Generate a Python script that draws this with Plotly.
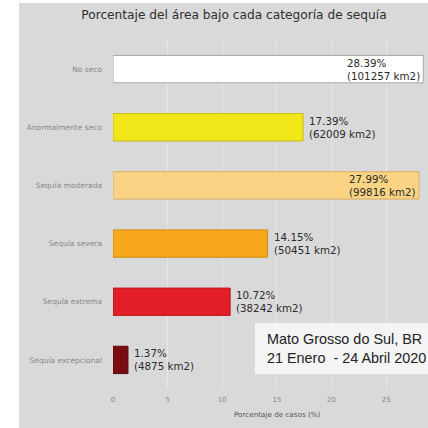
import plotly.graph_objects as go

categories = ["No seco", "Anormalmente seco", "Sequía moderada", "Sequía severa",
              "Sequía extrema", "Sequía excepcional"]
percent = [28.39, 17.39, 27.99, 14.15, 10.72, 1.37]
area_km2 = [101257, 62009, 99816, 50451, 38242, 4875]
bar_colors = ["#ffffff", "#f1e617", "#fad385", "#f8a61c", "#e21f26", "#7a0c12"]
edge_colors = ["#a8a8a8", "#c9bd10", "#d9ad62", "#d08a14", "#b8161c", "#5a080c"]
x_ticks = [0, 5, 10, 15, 20, 25]

W = H = 428
L, R, T, B = 113, 3, 40, 39
PW, PH = W - L - R, H - T - B

def px(x):
    return (x - L) / PW

def py(y):
    return (H - B - y) / PH

fig = go.Figure()
fig.add_trace(go.Bar(
    y=categories, x=percent, orientation="h", width=0.47,
    marker=dict(color=bar_colors, line=dict(color=edge_colors, width=1)),
    hoverinfo="skip",
))

for cat, p, a in zip(categories, percent, area_km2):
    inside = p > 25
    fig.add_annotation(
        x=p, y=cat, xref="x", yref="y",
        text=f"{p:.2f}%<br>({a} km2)",
        showarrow=False, align="left",
        xanchor="right" if inside else "left",
        xshift=-1 if inside else 4,
        font=dict(family="DejaVu Sans", size=10.3, color="#2a2a2a"),
    )

# gray panel edges (white strips)
fig.add_shape(type="rect", xref="paper", yref="paper", x0=px(0), x1=px(19), y0=py(H), y1=py(0),
              fillcolor="white", line=dict(width=0), layer="below")
fig.add_shape(type="rect", xref="paper", yref="paper", x0=px(0), x1=px(W), y0=py(3), y1=py(0),
              fillcolor="white", line=dict(width=0), layer="below")

# info box
fig.add_shape(type="rect", xref="paper", yref="paper", x0=px(255), x1=px(W + 5), y0=py(374), y1=py(323),
              fillcolor="rgba(246,246,246,0.95)", line=dict(width=0))
fig.add_annotation(x=px(265), y=py(348), xref="paper", yref="paper",
                   text="Mato Grosso do Sul, BR<br>21 Enero  - 24 Abril 2020",
                   showarrow=False, xanchor="left", yanchor="middle", align="left",
                   font=dict(family="Liberation Sans", size=14.4, color="#222222"))

# axis title
fig.add_annotation(x=px(277), y=py(414), xref="paper", yref="paper",
                   text="Porcentaje de casos (%)", showarrow=False,
                   xanchor="center", yanchor="middle",
                   font=dict(family="DejaVu Sans", size=7.2, color="#555555"))

fig.update_layout(
    width=W, height=H,
    margin=dict(l=L, r=R, t=T, b=B, pad=0),
    paper_bgcolor="#d9d9d9", plot_bgcolor="#d9d9d9",
    showlegend=False,
    title=dict(text="Porcentaje del área bajo cada categoría de sequía",
               x=234 / W, xref="container", xanchor="center",
               y=1 - 15 / H, yref="container", yanchor="middle",
               font=dict(family="DejaVu Sans", size=12.2, color="#2e2e2e")),
    xaxis=dict(range=[0, 28.55], tickvals=x_ticks, showgrid=True, gridcolor="#e6e6e6",
               gridwidth=1, zeroline=False, showline=False, ticks="",
               ticklabelstandoff=5,
               tickfont=dict(family="DejaVu Sans", size=7, color="#888888")),
    yaxis=dict(autorange="reversed", showgrid=False, zeroline=False, showline=False,
               ticks="", ticklabelstandoff=10,
               tickfont=dict(family="DejaVu Sans", size=7.5, color="#888888")),
)

fig.write_html("out.html")
